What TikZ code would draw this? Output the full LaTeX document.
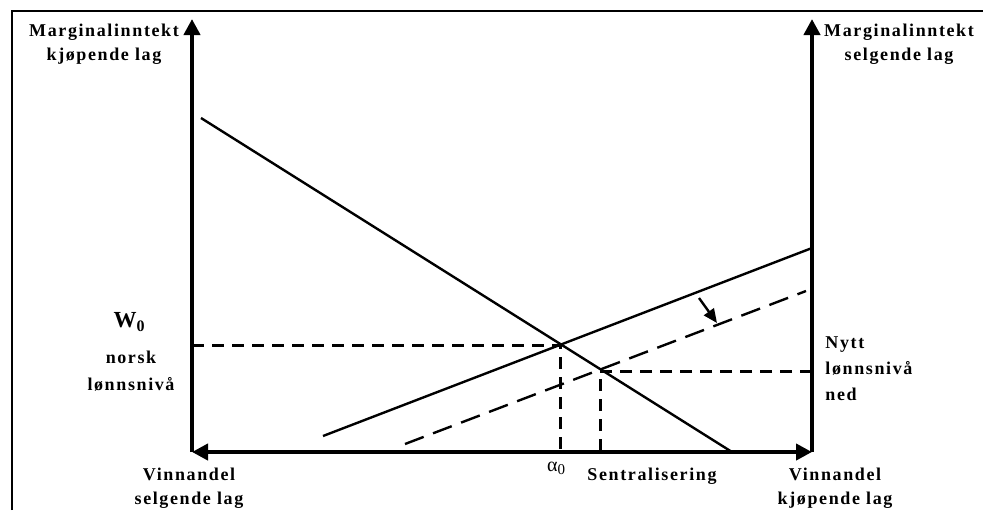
\documentclass[tikz,border=0pt]{standalone}
\usepackage{fontspec}
\setmainfont{Liberation Serif}[LetterSpace=9]
\usetikzlibrary{arrows.meta}

\begin{document}
\begin{tikzpicture}[x=0.5pt, y=-0.5pt, >={Triangle[length=8pt,width=8pt]},
    lbl/.style={font=\fontsize{9}{12}\selectfont\bfseries, align=center, inner sep=0pt, anchor=base},
    axis/.style={line width=2pt},
    curve/.style={line width=1.2pt},
    guide/.style={line width=1.5pt, dash pattern=on 6pt off 4pt}]
  \useasboundingbox (0,0) rectangle (983,510);
  % Frame (only top and left edges are visible)
  \draw[line width=0.6pt] (12,510) -- (12,11) -- (983,11);
  % Axes
  \coordinate (O1) at (192,452);
  \coordinate (O2) at (812,452);
  \coordinate (T1) at (192,19);
  \coordinate (T2) at (812,19);
  \draw[axis, ->] (O1) -- (T1);
  \draw[axis, ->] (O2) -- (T2);
  \draw[axis, <->] (O1) -- (O2);
  % Falling line
  \coordinate (A1) at (201,118);
  \coordinate (A2) at (732,452);
  \draw[curve] (A1) -- (A2);
  % Rising lines: old (solid) and new (dashed)
  \coordinate (B1) at (323,436);
  \coordinate (B2) at (812,248);
  \draw[curve] (B1) -- (B2);
  \coordinate (C1) at (405,444);
  \coordinate (C2) at (806,291);
  \draw[curve, dash pattern=on 10pt off 5pt] (C1) -- (C2);
  % Crossing points and guide lines
  \coordinate (E0) at (560,345);
  \coordinate (E1) at (600,371);
  \coordinate (W0) at (192,345);
  \coordinate (N1) at (812,371);
  \draw[guide] (W0) -- (E0) -- (E0 |- O1);
  \draw[guide] (N1) -- (E1) -- (E1 |- O1);
  % Shift arrow
  \coordinate (S1) at (699,298);
  \coordinate (S2) at (717,323);
  \draw[curve, -{Triangle[length=7pt,width=6pt]}] (S1) -- (S2);
  % Labels (base = baseline of the last line)
  \node[lbl] (mkj) at (104,60) {Marginalinntekt\\kjøpende lag};
  \node[lbl] (msl) at (899,60) {Marginalinntekt\\selgende lag};
  \node[lbl, font=\fontsize{11.5}{12}\selectfont\bfseries] (wnull) at (129,327)
    {W\raisebox{-0.45ex}{\fontsize{8}{8}\selectfont 0}};
  \node[lbl, font=\fontsize{9}{13.5}\selectfont\bfseries] (wnorsk) at (131,390) {norsk\\lønnsnivå};
  \node[lbl, align=left, anchor=base west, font=\fontsize{9}{12.8}\selectfont\bfseries] (nytt) at (825,400)
    {Nytt\\lønnsnivå\\ned};
  \node[lbl] (vsel) at (189,504) {Vinnandel\\selgende lag};
  \node[lbl] (vkjo) at (835,504) {Vinnandel\\kjøpende lag};
  \node[lbl, font=\fontsize{10}{12}\selectfont] (alpha) at (556,471)
    {α\raisebox{-0.4ex}{\fontsize{7.5}{8}\selectfont 0}};
  \node[lbl] (sentral) at (652,480) {Sentralisering};
\end{tikzpicture}
\end{document}
